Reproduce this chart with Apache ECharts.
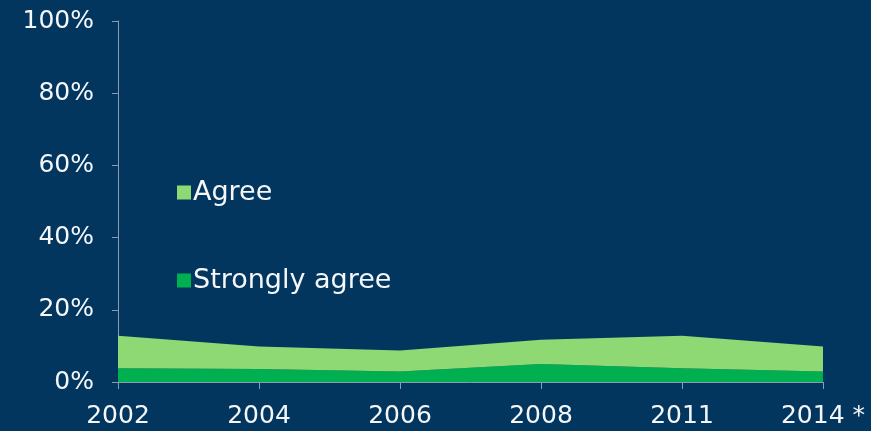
<!DOCTYPE html>
<html>
<head>
<meta charset="utf-8">
<script src="https://cdn.jsdelivr.net/npm/echarts@6/dist/echarts.min.js"></script>
<style>
  html, body { margin: 0; padding: 0; background: #02365f; }
  #chart { width: 871px; height: 431px; }
</style>
</head>
<body>
<div id="chart"></div>
<script>
// survey years
const years = ['2002', '2004', '2006', '2008', '2011', '2014 *'];
// share of respondents, in percent
const stronglyAgree = [3.8, 3.6, 2.9, 5.0, 3.8, 2.9];
const agree = [9.0, 6.2, 5.8, 6.7, 9.0, 6.9];

const chart = echarts.init(document.getElementById('chart'));

const option = {
    backgroundColor: '#02365f',
    textStyle: {
        fontFamily: 'DejaVu Sans'
    },
    animation: false,
    grid: {
        left: 118,
        right: 48,
        top: 21,
        bottom: 49
    },
    legend: {
        data: ['Agree', 'Strongly agree'],
        orient: 'vertical',
        left: 172,
        top: 174,
        itemWidth: 14,
        itemHeight: 14,
        itemGap: 61,
        icon: 'rect',
        selectedMode: false,
        textStyle: {
            color: '#f4f6f8',
            fontSize: 27,
            padding: [0, 0, 0, -3]
        }
    },
    xAxis: {
        type: 'category',
        data: years,
        boundaryGap: false,
        axisLine: { show: true, lineStyle: { color: '#8c9cb0', width: 1 } },
        axisTick: { show: true, length: 7, lineStyle: { color: '#8c9cb0' } },
        axisLabel: { color: '#f4f6f8', fontSize: 25, margin: 22 },
        splitLine: { show: false }
    },
    yAxis: {
        type: 'value',
        min: 0,
        max: 100,
        interval: 20,
        axisLine: { show: true, lineStyle: { color: '#8c9cb0', width: 1 } },
        axisTick: { show: true, length: 6, lineStyle: { color: '#8c9cb0' } },
        axisLabel: { color: '#f4f6f8', fontSize: 25, margin: 24, formatter: '{value}%' },
        splitLine: { show: false }
    },
    series: [
        {
            name: 'Strongly agree',
            type: 'line',
            stack: 'total',
            data: stronglyAgree,
            symbol: 'none',
            lineStyle: { width: 0 },
            itemStyle: { color: '#00b050' },
            areaStyle: { color: '#00b050', opacity: 1 }
        },
        {
            name: 'Agree',
            type: 'line',
            stack: 'total',
            data: agree,
            symbol: 'none',
            lineStyle: { width: 0 },
            itemStyle: { color: '#8ed973' },
            areaStyle: { color: '#8ed973', opacity: 1 }
        }
    ]
};

chart.setOption(option);
</script>
</body>
</html>
